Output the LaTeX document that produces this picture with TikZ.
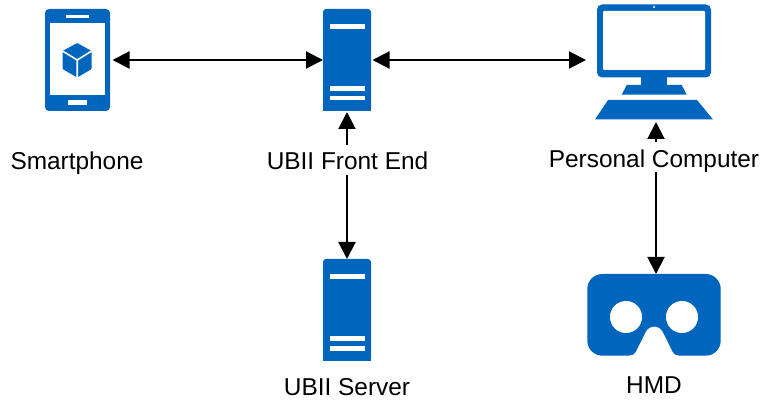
\documentclass[tikz,border=0pt]{standalone}
\usepackage{fontspec}
\setmainfont{Liberation Sans}
\usetikzlibrary{arrows.meta}
\definecolor{iconblue}{HTML}{0066BD}

\begin{document}
\begin{tikzpicture}[>={Triangle[length=17bp,width=17bp]}, line width=2bp,
    spot/.style={inner sep=0pt, outer sep=0pt},
    icon/.style={fill=iconblue, draw=none},
    hole/.style={fill=white, draw=none},
    link/.style={<->, line cap=butt},
    tower/.style={spot, icon, rounded corners=3bp, minimum width=48bp, minimum height=102bp},
    tag/.style={anchor=base, fill=white, inner xsep=0pt, inner ysep=0pt, text height=25bp, text depth=5bp,
      font=\fontsize{24.4bp}{28bp}\selectfont}]
%%
  \useasboundingbox (0bp,0bp) rectangle (761bp,401bp);
  \node (phone) at (77.5bp,341bp) [spot,icon,rounded corners=4bp,minimum width=65bp,minimum height=102bp] {};
  \node (frontend) at (347bp,341bp) [tower] {};
  \node (server) at (347bp,91bp) [tower] {};
  \node (pc) at (656bp,341bp) [spot,minimum width=140bp,minimum height=122bp] {};
  \node (hmd) at (654bp,86.15bp) [spot,icon,rounded corners=15bp,minimum width=133.4bp,minimum height=81.7bp] {};
%
  \fill [hole] (49.5bp,306bp) rectangle (105bp,378bp);
  \fill [hole] (65.5bp,383bp) rectangle (89bp,386bp);
  \fill [hole] (68bp,296bp) rectangle (87bp,301bp);
  \fill [icon,rounded corners=1bp] (77.2bp,358bp) -- (91.7bp,350bp) -- (91.7bp,332bp) -- (77.2bp,323.5bp)
    -- (62.5bp,332bp) -- (62.5bp,350bp) -- cycle;
  \draw [white,line width=1.6bp] (62.5bp,350bp) -- (77.2bp,341bp) -- (91.7bp,350bp) (77.2bp,341bp) -- (77.2bp,323.5bp);
%
  \fill [icon] (frontend.south west) rectangle (frontend.east);
  \fill [hole] (330bp,372bp) rectangle (364.5bp,377bp);
  \fill [hole] (330bp,310bp) rectangle (364.5bp,315bp);
  \fill [hole] (330bp,300.5bp) rectangle (364.5bp,305bp);
%
  \fill [icon] (server.south west) rectangle (server.east);
  \fill [hole] (330bp,122bp) rectangle (364.5bp,127bp);
  \fill [hole] (330bp,60bp) rectangle (364.5bp,65bp);
  \fill [hole] (330bp,50bp) rectangle (364.5bp,55bp);
%
  \fill [icon,rounded corners=5bp] (597bp,323.5bp) rectangle (711bp,396.5bp);
  \fill [hole,rounded corners=1bp] (603bp,331bp) rectangle (705bp,390bp);
  \fill [hole] (654bp,394bp) circle (1.2bp);
  \fill [icon] (641bp,315bp) rectangle (666.7bp,325bp);
  \fill [icon] (621.7bp,306.3bp) -- (686.7bp,306.3bp) -- (681.7bp,316bp) -- (626.7bp,316bp) -- cycle;
  \fill [icon] (595bp,281.5bp) -- (713bp,281.5bp) -- (697bp,301bp) -- (608bp,301bp) -- cycle;
%
  \fill [hole] (626bp,84bp) circle (16bp);
  \fill [hole] (682bp,84bp) circle (16bp);
  \fill [hole] (629.5bp,44bp) -- (629.5bp,45.3bp) .. controls (632.5bp,45.3bp) and (634.5bp,46.5bp) .. (635.8bp,49bp)
    -- (645.5bp,68.5bp) .. controls (647.3bp,72.5bp) and (651bp,74.3bp) .. (654.2bp,74.3bp)
    .. controls (657.4bp,74.3bp) and (661.1bp,72.5bp) .. (662.9bp,68.5bp)
    -- (672.6bp,49bp) .. controls (673.9bp,46.5bp) and (675.9bp,45.3bp) .. (678.9bp,45.3bp) -- (678.9bp,44bp) -- cycle;
%
  \draw [link,shorten <=2.5bp] (phone) -- (frontend);
  \draw [link,shorten <=1.5bp] (frontend.east) -- (pc.west);
  \draw [link,shorten <=1bp] (frontend) -- (server);
  \draw [link,shorten <=1bp] (pc.south) -- (pc.south |- hmd.north);
%
  \node (phonetag) at (77bp,231bp) [tag] {Smartphone};
  \node (frontendtag) at (347.5bp,231bp) [tag] {UBII Front End};
  \node (servertag) at (347bp,5.5bp) [tag] {UBII Server};
  \node (pctag) at (654bp,233.5bp) [tag] {Personal Computer};
  \node (hmdtag) at (654bp,7.5bp) [tag] {HMD};
%
\end{tikzpicture}
\end{document}
